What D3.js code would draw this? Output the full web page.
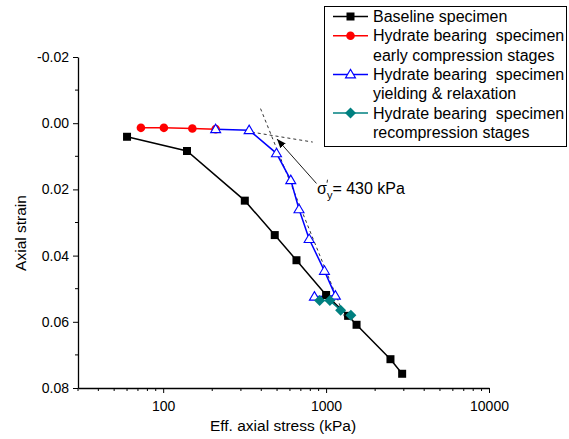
<!DOCTYPE html>
<html>
<head>
<meta charset="utf-8">
<script src="https://cdn.jsdelivr.net/npm/d3@7"></script>
<style>
  body { margin: 0; background: #fff; }
  svg { font-family: "Liberation Sans", Arial, sans-serif; }
  text { white-space: pre; }
</style>
</head>
<body>
<svg id="chart" width="569" height="439"></svg>
<script>
// baseline specimen
const baseStress = [60, 140, 317, 484, 658, 1000, 1365, 1538, 2484, 2930];
const baseStrain = [0.0041, 0.0084, 0.0234, 0.0338, 0.0414, 0.0519, 0.0582, 0.0609, 0.0713, 0.0757];
// hydrate bearing, early compression
const earlyStress = [73, 101, 151, 210];
const earlyStrain = [0.0014, 0.0014, 0.0016, 0.0018];
// hydrate bearing, yielding & relaxation
const yieldStress = [210, 337, 496, 607, 682, 787, 977, 1140, 848];
const yieldStrain = [0.0018, 0.0021, 0.0091, 0.0172, 0.026, 0.035, 0.0446, 0.0521, 0.0524];
// hydrate bearing, recompression
const recompStress = [913, 1055, 1228, 1420];
const recompStrain = [0.0536, 0.0536, 0.0565, 0.058];

const xTicks = [100, 1000, 10000];
const yTicks = [-0.02, 0.00, 0.02, 0.04, 0.06, 0.08];

// construction lines for yield stress
const steepLine = [[396, -0.0044], [1321, 0.0594]];
const flatLine = [[350, 0.0027], [828, 0.0057]];
const arrowLine = [[873, 0.0182], [500, 0.0048]];

const legendLabels = [
  ["Baseline specimen"],
  ["Hydrate bearing  specimen", "early compression stages"],
  ["Hydrate bearing  specimen", "yielding & relaxation"],
  ["Hydrate bearing  specimen", "recompression stages"]
];

const svg = d3.select("#chart");
const x = d3.scaleLog().domain([30, 10000]).range([78, 489]);
const y = d3.scaleLinear().domain([-0.02, 0.08]).range([57, 388]);

const defs = svg.append("defs");
defs.append("marker")
  .attr("id", "arrow")
  .attr("viewBox", "0 0 10 10")
  .attr("refX", 10).attr("refY", 5)
  .attr("markerWidth", 9).attr("markerHeight", 9)
  .attr("markerUnits", "userSpaceOnUse")
  .attr("orient", "auto")
  .append("path").attr("d", "M0,1 L10,5 L0,9 Z").attr("fill", "#000");

// axes
const minorX = [];
[10, 100, 1000].forEach(d => { for (let k = 2; k <= 9; k++) { if (d * k >= 30) minorX.push(d * k); } });
const xAxis = d3.axisBottom(x).tickValues(xTicks).tickFormat(d3.format("d")).tickSize(5).tickSizeOuter(0);
const gx = svg.append("g").attr("transform", "translate(0,388)").call(xAxis);
gx.selectAll(".minor").data(minorX).enter().append("line")
  .attr("x1", d => x(d)).attr("x2", d => x(d)).attr("y1", 0).attr("y2", 3)
  .attr("stroke", "#000");

const yAxis = d3.axisLeft(y).tickValues(yTicks).tickFormat(d => d.toFixed(2)).tickSize(5).tickSizeOuter(0);
const gy = svg.append("g").attr("transform", "translate(78,0)").call(yAxis);
gy.selectAll(".minor").data([-0.01, 0.01, 0.03, 0.05, 0.07]).enter().append("line")
  .attr("y1", d => y(d)).attr("y2", d => y(d)).attr("x1", 0).attr("x2", -3)
  .attr("stroke", "#000");

[gx, gy].forEach(g => {
  g.select(".domain").attr("stroke", "#000").attr("stroke-width", 1.3);
  g.selectAll(".tick line").attr("stroke", "#000");
  g.selectAll("text").attr("font-size", 14).attr("fill", "#000")
    .attr("font-family", "Liberation Sans, Arial, sans-serif");
});
gx.selectAll(".tick text").attr("dy", "1.1em");
gy.selectAll(".tick text").attr("x", -9);

svg.append("text").attr("x", 283).attr("y", 431).attr("text-anchor", "middle")
  .attr("font-size", 15.5).text("Eff. axial stress (kPa)");
svg.append("text").attr("transform", "translate(26,233) rotate(-90)")
  .attr("text-anchor", "middle").attr("font-size", 15.5).text("Axial strain");

// construction lines
const line = d3.line().x(d => x(d[0])).y(d => y(d[1]));
[steepLine, flatLine].forEach(l => {
  svg.append("path").attr("d", line(l)).attr("fill", "none")
    .attr("stroke", "#000").attr("stroke-width", 0.8).attr("stroke-dasharray", "3,3");
});

// series
const series = [
  { sx: baseStress, sy: baseStrain, color: "#000000", shape: "square" },
  { sx: earlyStress, sy: earlyStrain, color: "#ff0000", shape: "circle" },
  { sx: yieldStress, sy: yieldStrain, color: "#0000ff", shape: "triangle" },
  { sx: recompStress, sy: recompStrain, color: "#008080", shape: "diamond" }
];

function drawMarker(g, shape, color, cx, cy) {
  if (shape === "square") {
    g.append("rect").attr("x", cx - 4).attr("y", cy - 4).attr("width", 8).attr("height", 8).attr("fill", color);
  } else if (shape === "circle") {
    g.append("circle").attr("cx", cx).attr("cy", cy).attr("r", 4.3).attr("fill", color);
  } else if (shape === "triangle") {
    g.append("path").attr("d", `M${cx},${cy - 5} L${cx + 5},${cy + 3.5} L${cx - 5},${cy + 3.5} Z`)
      .attr("fill", "#fff").attr("stroke", color).attr("stroke-width", 1.1);
  } else {
    g.append("path").attr("d", `M${cx},${cy - 5.5} L${cx + 5.5},${cy} L${cx},${cy + 5.5} L${cx - 5.5},${cy} Z`)
      .attr("fill", color);
  }
}

series.forEach(s => {
  const pts = s.sx.map((v, i) => [v, s.sy[i]]);
  svg.append("path").attr("d", line(pts)).attr("fill", "none")
    .attr("stroke", s.color).attr("stroke-width", 1.5);
});
series.forEach(s => {
  const g = svg.append("g");
  s.sx.forEach((v, i) => drawMarker(g, s.shape, s.color, x(v), y(s.sy[i])));
});

// arrow and annotation
svg.append("path").attr("d", line(arrowLine)).attr("stroke", "#000").attr("stroke-width", 0.9)
  .attr("fill", "none").attr("marker-end", "url(#arrow)");
const ax = x(880), ay = y(0.0213);
const ann = svg.append("text").attr("x", ax).attr("y", ay).attr("font-size", 16);
ann.append("tspan").text("σ");
ann.append("tspan").attr("font-size", 11).attr("dy", 5).text("y");
ann.append("tspan").attr("dy", -5).text("= 430 kPa");
svg.append("line").attr("x1", ax + 10.5).attr("x2", ax + 10).attr("y1", ay - 14).attr("y2", ay - 11)
  .attr("stroke", "#000").attr("stroke-width", 0.8);

// legend
const lg = svg.append("g");
lg.append("rect").attr("x", 324.5).attr("y", 6.5).attr("width", 242).attr("height", 140)
  .attr("fill", "#fff").attr("stroke", "#000").attr("stroke-width", 1);
let row = 0;
legendLabels.forEach((lab, i) => {
  const yy = 16.5 + row * 19.3;
  const s = series[i];
  lg.append("line").attr("x1", 333).attr("x2", 368).attr("y1", yy).attr("y2", yy)
    .attr("stroke", s.color).attr("stroke-width", 1.5);
  drawMarker(lg, s.shape, s.color, 350.5, yy);
  lab.forEach((t, j) => {
    lg.append("text").attr("x", 373).attr("y", yy + 5.5 + j * 19.3).attr("font-size", 16).text(t);
  });
  row += lab.length;
});
</script>
</body>
</html>
